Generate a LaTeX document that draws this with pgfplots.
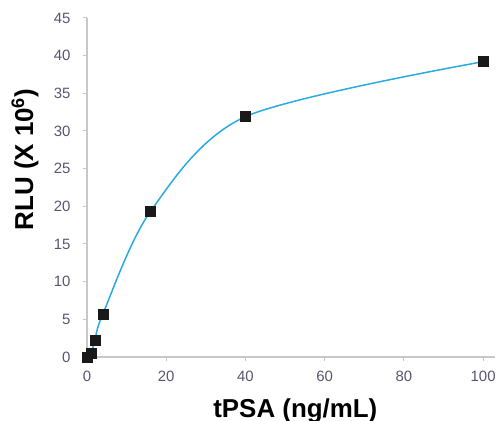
\documentclass[border=0pt]{standalone}
\usepackage{pgfplots}
\pgfplotsset{compat=1.18}
\usepackage{fontspec}
\setmainfont{Liberation Sans}
\definecolor{curveblue}{RGB}{41,171,226}
\definecolor{ticktext}{RGB}{88,86,112}
\definecolor{axisgray}{RGB}{200,200,200}

\begin{document}
\begin{tikzpicture}
\begin{axis}[
    at={(0,0)}, anchor=south west,
    scale only axis,
    width=408bp, height=339bp,
    xmin=0, xmax=103,
    ymin=0, ymax=45,
    xtick={0,20,40,60,80,100},
    ytick={0,5,10,15,20,25,30,35,40,45},
    axis x line*=bottom,
    axis y line*=left,
    tick align=outside,
    major tick length=4bp,
    axis line style={axisgray, line width=1.5bp},
    tick style={axisgray, line width=1bp},
    tick label style={font=\fontsize{15}{15}\selectfont, text=ticktext},
    xticklabel style={yshift=-7bp},
    yticklabel style={xshift=-9bp},
    /pgf/number format/assume math mode=true,
    xlabel={tPSA (ng/mL)},
    ylabel={RLU (X 10\textsuperscript{6})},
    label style={font=\bfseries\fontsize{26}{26}\selectfont},
    xlabel style={at={(axis cs:52.6,-8.0)}, anchor=base},
    ylabel style={at={(axis cs:-13.6,26.2)}, anchor=base, rotate=0},
    clip=false,
]
% fitted calibration curve
\addplot[color=curveblue, line width=1.5bp, smooth, tension=0.5]
    coordinates {
    (0,0) (1,0.5) (2,2.2) (4,5.7) (16,19.3) (40,31.9) (100,39.2)
    };
% calibrators
\addplot[only marks, mark=square*, mark size=5bp, color=black!90]
    coordinates {
    (0,0) (1,0.5) (2,2.2) (4,5.7) (16,19.3) (40,31.9) (100,39.2)
    };
\end{axis}
\pgfresetboundingbox
\useasboundingbox (-87bp,-64bp) rectangle (411bp,357bp);
\end{tikzpicture}
\end{document}
